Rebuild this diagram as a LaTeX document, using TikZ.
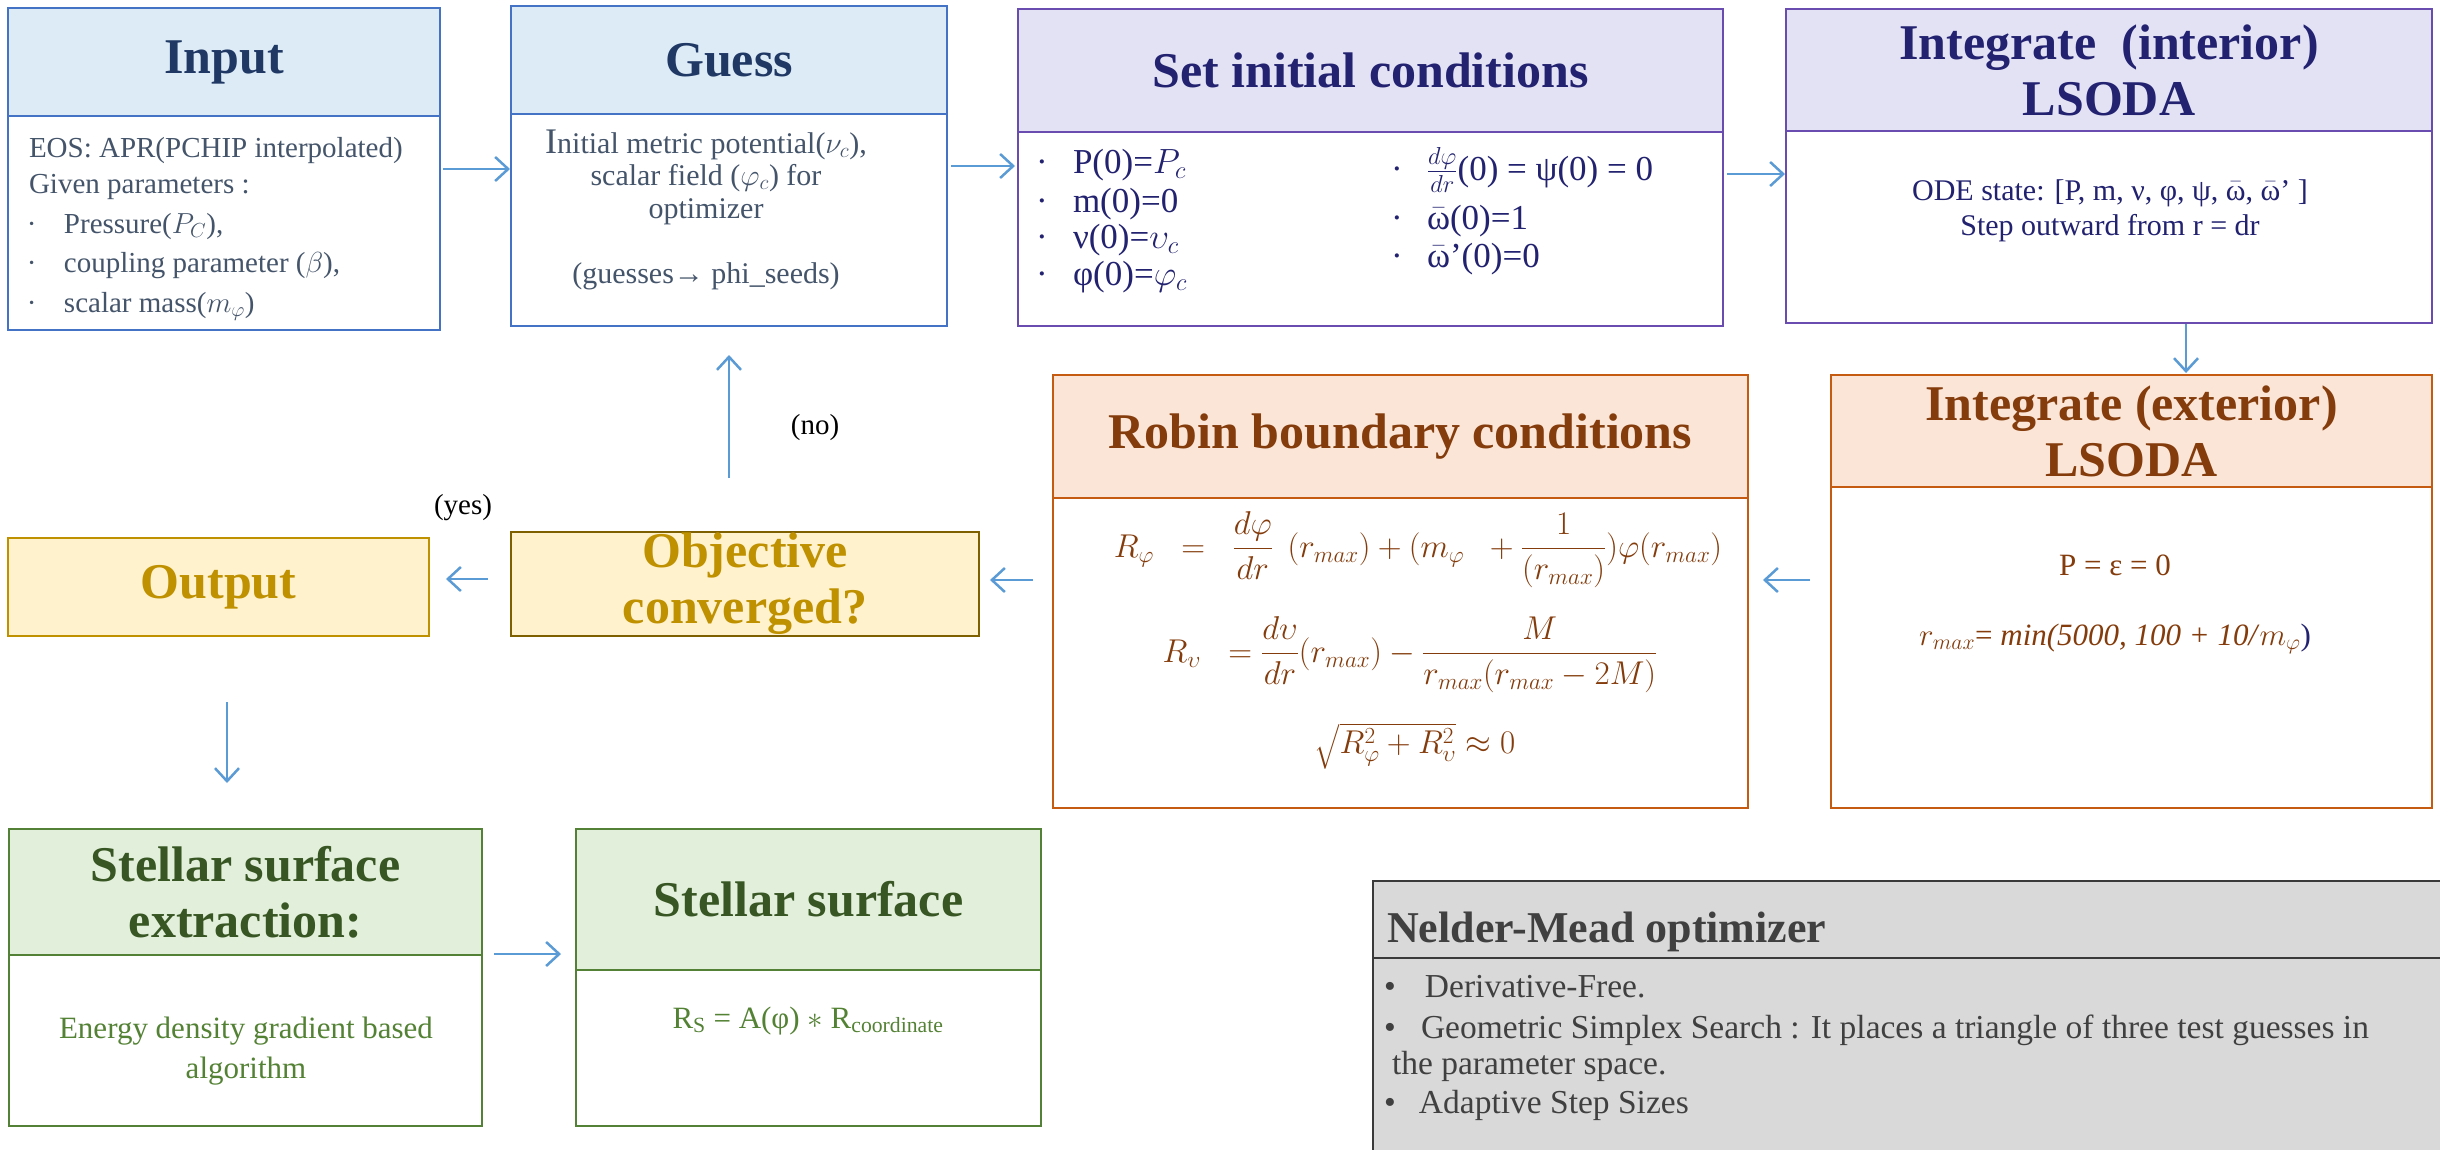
\RequirePackage{fix-cm}
\documentclass[tikz,border=0pt]{standalone}
\usepackage{fontspec}
\usepackage{amsmath}
\setmainfont{Liberation Serif}
\usetikzlibrary{arrows.meta}
\definecolor{bBlue}{HTML}{4472C4}
\definecolor{fBlue}{HTML}{DDEBF7}
\definecolor{hBlue}{HTML}{1F3864}
\definecolor{tSlate}{HTML}{44546A}
\definecolor{bPurple}{HTML}{6A4BAF}
\definecolor{fPurple}{HTML}{E3E2F5}
\definecolor{tNavy}{HTML}{222270}
\definecolor{bOrange}{HTML}{C55A11}
\definecolor{fOrange}{HTML}{FBE5D6}
\definecolor{tBrown}{HTML}{843C0C}
\definecolor{bGold}{HTML}{BF9000}
\definecolor{bOlive}{HTML}{7F6000}
\definecolor{fGold}{HTML}{FFF2CC}
\definecolor{tGold}{HTML}{BF9000}
\definecolor{bGreen}{HTML}{538135}
\definecolor{fGreen}{HTML}{E2EFDA}
\definecolor{hGreen}{HTML}{375623}
\definecolor{tGreen}{HTML}{548235}
\definecolor{bGray}{HTML}{3A3A3A}
\definecolor{fGray}{HTML}{D9D9D9}
\definecolor{tGray}{HTML}{404040}
\definecolor{cArrow}{HTML}{5B9BD5}
\newcommand\fsz[2]{\fontsize{#1}{#2}\selectfont}
\newcommand\wb{\ensuremath{\bar{\text{ω}}}}
\begin{document}
\begin{tikzpicture}[x=1pt,y=-1pt,
  every node/.style={inner sep=0pt,outer sep=0pt},
  frame/.style={draw=#1,line width=2.5pt,fill=white,anchor=north west,rectangle},
  head/.style 2 args={draw=#1,fill=#2,line width=2.5pt,anchor=north west,rectangle,align=center,font=\fsz{50}{56}\bfseries},
  arr/.style={draw=cArrow,line width=2.5pt,-{Straight Barb[length=13pt,width=24pt]}},
  inT/.style={anchor=base west,text=tSlate,font=\fsz{29}{35}},
  guT/.style={anchor=base,text=tSlate,font=\fsz{30}{35}},
  setT/.style={anchor=base west,text=tNavy,font=\fsz{35}{40}},
  intT/.style={anchor=base,text=tNavy,font=\fsz{30}{35}},
  robT/.style={anchor=center,text=tBrown,font=\fsz{33}{38}},
  extT/.style={anchor=base,text=tBrown,font=\fsz{31}{36}},
  stT/.style={anchor=base,text=tGreen,font=\fsz{31}{36}},
  nmT/.style={anchor=base west,text=tGray,font=\fsz{33.5}{40}},
  lbl/.style={text=black,font=\fsz{29}{34}}
]
\clip (0,0) rectangle (2440,1149);
\useasboundingbox (0,0) rectangle (2440,1149);
\fill[white] (0,0) rectangle (2440,1149);

% ---------- boxes ----------
\node[frame=bBlue,minimum width=432pt,minimum height=322pt] (input) at (8,8) {};
\node[head={bBlue}{fBlue},text=hBlue,minimum width=432pt,minimum height=108pt] (inputH) at (8,8) {Input};

\node[frame=bBlue,minimum width=436pt,minimum height=320pt] (guess) at (511,6) {};
\node[head={bBlue}{fBlue},text=hBlue,minimum width=436pt,minimum height=108pt] (guessH) at (511,6) {Guess};

\node[frame=bPurple,minimum width=705pt,minimum height=317pt] (setic) at (1018,9) {};
\node[head={bPurple}{fPurple},text=tNavy,minimum width=705pt,minimum height=123pt] (seticH) at (1018,9) {Set initial conditions};

\node[frame=bPurple,minimum width=646pt,minimum height=314pt] (interior) at (1786,9) {};
\node[head={bPurple}{fPurple},text=tNavy,minimum width=646pt,minimum height=122pt] (interiorH) at (1786,9) {Integrate\ \ (interior)\\LSODA};

\node[frame=bOrange,minimum width=695pt,minimum height=433pt] (robin) at (1053,375) {};
\node[head={bOrange}{fOrange},text=tBrown,minimum width=695pt,minimum height=123pt] (robinH) at (1053,375) {Robin boundary conditions};

\node[frame=bOrange,minimum width=601pt,minimum height=433pt] (exterior) at (1831,375) {};
\node[head={bOrange}{fOrange},text=tBrown,minimum width=601pt,minimum height=112pt] (exteriorH) at (1831,375) {Integrate (exterior)\\LSODA};

\node[head={bOlive}{fGold},text=tGold,minimum width=468pt,minimum height=104pt] (objective) at (511,532) {Objective\\converged?};
\node[head={bGold}{fGold},text=tGold,minimum width=421pt,minimum height=98pt] (output) at (8,538) {Output};

\node[frame=bGreen,minimum width=473pt,minimum height=297pt] (stellarext) at (9,829) {};
\node[head={bGreen}{fGreen},text=hGreen,minimum width=473pt,minimum height=126pt] (stellarextH) at (9,829) {Stellar surface\\extraction:};

\node[frame=bGreen,minimum width=465pt,minimum height=297pt] (stellarsurf) at (576,829) {};
\node[head={bGreen}{fGreen},text=hGreen,minimum width=465pt,minimum height=141pt] (stellarsurfH) at (576,829) {Stellar surface};

\node[frame=bGray,fill=fGray,minimum width=1100pt,minimum height=300pt] (nelder) at (1373,881) {};
\node[head={bGray}{fGray},minimum width=1100pt,minimum height=77pt] (nelderH) at (1373,881) {};
\node[anchor=base west,text=tGray,font=\fsz{44}{50}\bfseries] (nelderT) at (1387,942) {Nelder-Mead optimizer};

% ---------- texts ----------
\node[inT] (in1) at (29,157) {EOS: APR(PCHIP interpolated)};
\node[inT] (in2) at (29,193) {Given parameters :};
\node[inT] (in3) at (27,233) {\makebox[37pt][l]{·}Pressure($P_C$),};
\node[inT] (in4) at (27,272) {\makebox[37pt][l]{·}coupling parameter ($\beta$),};
\node[inT] (in5) at (27,312) {\makebox[37pt][l]{·}scalar mass($m_\varphi$)};

\node[guT] (gu1) at (706,153) {{\fsz{36}{36}I}nitial metric potential($\nu_c$),};
\node[guT] (gu2) at (706,185) {scalar field ($\varphi_c$) for};
\node[guT] (gu3) at (706,218) {optimizer};
\node[guT] (gu4) at (706,283) {(guesses→ phi\_seeds)};

\node[setT] (se1) at (1036,173) {\makebox[37pt][l]{·}P(0)=$P_c$};
\node[setT] (se2) at (1036,212) {\makebox[37pt][l]{·}m(0)=0};
\node[setT] (se3) at (1036,248) {\makebox[37pt][l]{·}ν(0)=$\upsilon_c$};
\node[setT] (se4) at (1036,285) {\makebox[37pt][l]{·}φ(0)=$\varphi_c$};
\node[setT] (se5) at (1391,180) {\makebox[36pt][l]{·}$\frac{d\varphi}{dr}$(0) = ψ(0) = 0};
\node[setT] (se6) at (1391,229) {\makebox[36pt][l]{·}\wb(0)=1};
\node[setT] (se7) at (1391,267) {\makebox[36pt][l]{·}\wb’(0)=0};

\node[intT] (it1) at (2110,200) {ODE state: [P, m, ν, φ, ψ, \wb, \wb’ ]};
\node[intT] (it2) at (2110,235) {Step outward from r = dr};

\node[robT] (ro1) at (1418,550) {$R_\varphi \;\;=\;\; \dfrac{d\varphi}{dr}\;\,(r_{max}) + (m_\varphi\;\; + \dfrac{1}{(r_{max})})\varphi(r_{max})$};
\node[robT] (ro2) at (1410,655) {$R_\upsilon \;\;= \dfrac{d\upsilon}{dr}(r_{max}) - \dfrac{M}{r_{max}(r_{max}-2M)}$};
\node[robT] (ro3) at (1415,746) {$\sqrt{R_\varphi^2+R_\upsilon^2}\approx 0$};

\node[extT] (ex1) at (2115,575) {P = ε = 0};
\node[extT] (ex2) at (2115,645) {$r_{max}$= \textit{min(5000, 100 + 10/}$m_\varphi$\textcolor{tNavy}{)}};

\node[stT] (st1) at (246,1038) {Energy density gradient based};
\node[stT] (st2) at (246,1078) {algorithm};
\node[stT] (su1) at (808,1028) {R$_{\text{S}}$ = A(φ) $\ast$ R$_{\text{coordinate}}$};

\node[nmT] (nm1) at (1384,997) {\makebox[41pt][l]{•}Derivative-Free.};
\node[nmT] (nm2) at (1384,1038) {\makebox[37pt][l]{•}Geometric Simplex Search : It places a triangle of three test guesses in};
\node[nmT] (nm3) at (1392,1074) {the parameter space.};
\node[nmT] (nm4) at (1384,1113) {\makebox[35pt][l]{•}Adaptive Step Sizes};

\node[lbl] (nolbl) at (815,428) {(no)};
\node[lbl] (yeslbl) at (463,508) {(yes)};

% ---------- connectors ----------
\draw[arr,shorten <=3pt,shorten >=1pt] (input.east) -- (input.east -| guess.west);
\draw[arr,shorten <=4pt,shorten >=3pt] (guess.east) -- (guess.east -| setic.west);
\draw[arr,shorten <=4pt,shorten >=1pt] ([yshift=-6.5pt]setic.east) -- ([yshift=-6.5pt]setic.east -| interior.west);
\draw[arr,shorten <=1pt,shorten >=2pt] ([xshift=77pt]interior.south) -- ([xshift=77pt]interior.south |- exterior.north);
\draw[arr,shorten <=21pt,shorten >=15pt] ([yshift=11.5pt]exterior.west) -- ([yshift=11.5pt]exterior.west -| robin.east);
\draw[arr,shorten <=20pt,shorten >=11pt] ([yshift=11.5pt]robin.west) -- ([yshift=11.5pt]robin.west -| objective.east);
\draw[arr,shorten <=54pt,shorten >=29pt] (guess.south |- objective.north) -- (guess.south);
\draw[arr,shorten <=23pt,shorten >=17pt] ([yshift=5pt]objective.west) -- ([yshift=5pt]objective.west -| output.east);
\draw[arr,shorten <=66pt,shorten >=46pt] ([xshift=8.5pt]output.south) -- ([xshift=8.5pt]output.south |- stellarext.north);
\draw[arr,shorten <=12pt,shorten >=15pt] ([yshift=23.5pt]stellarext.east) -- ([yshift=23.5pt]stellarext.east -| stellarsurf.west);
\end{tikzpicture}
\end{document}
